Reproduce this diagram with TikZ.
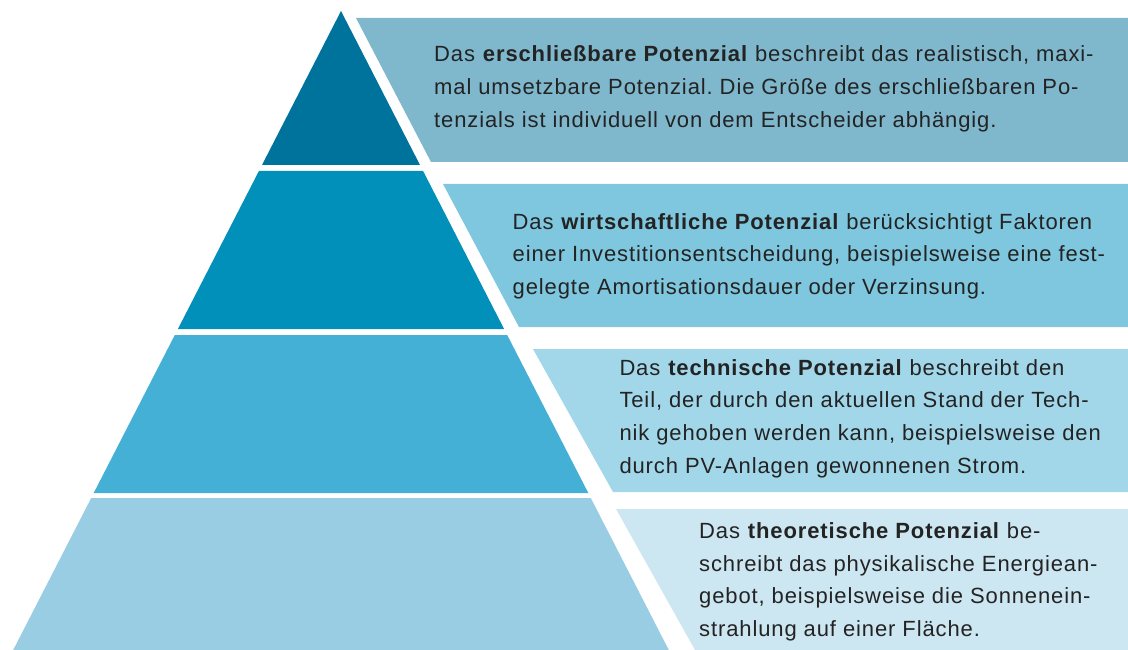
\documentclass[tikz,border=0pt]{standalone}
\usepackage{fontspec}
\setmainfont{Liberation Sans}[LetterSpace=4]
\frenchspacing
\definecolor{ptop}{RGB}{0,115,156}
\definecolor{pwirt}{RGB}{0,144,186}
\definecolor{ptech}{RGB}{69,176,213}
\definecolor{ptheo}{RGB}{153,205,228}
\definecolor{btop}{RGB}{127,184,205}
\definecolor{bwirt}{RGB}{127,199,222}
\definecolor{btech}{RGB}{162,215,234}
\definecolor{btheo}{RGB}{204,230,242}
\definecolor{txtgray}{RGB}{35,35,35}
\tikzset{potsec/.style={x=1pt,y=-1pt},
  desc/.style={align=left,anchor=base west,inner sep=0pt,text=txtgray,
    font=\fontsize{22}{32.7}\selectfont}}

\begin{document}
\begin{tikzpicture}[potsec]
    \useasboundingbox (0,0) rectangle (1128,650);
    % pyramid, apex at (341,11)
    \fill[ptop]  (341,11) -- (420,165) -- (262,165) -- cycle;
    \fill[pwirt] (258.9,171) -- (423.1,171) -- (504.1,329) -- (177.9,329) -- cycle;
    \fill[ptech] (174.8,335) -- (507.2,335) -- (588.3,493) -- (93.7,493) -- cycle;
    \fill[ptheo] (91.2,498) -- (590.8,498) -- (668.8,650) -- (13.2,650) -- cycle;
    % description bands
    \fill[btop]  (356,18) -- (1128,18) -- (1128,162) -- (431,162) -- cycle;
    \fill[bwirt] (443,184) -- (1128,184) -- (1128,327) -- (519,327) -- cycle;
    \fill[btech] (533,349) -- (1128,349) -- (1128,492) -- (613,492) -- cycle;
    \fill[btheo] (616,509) -- (1128,509) -- (1128,650) -- (695,650) -- cycle;
    % texts, anchored at the baseline of their last line
    \node[desc] (erschl) at (434,127.1)
      {Das \textbf{erschließbare Potenzial} beschreibt das realistisch, maxi-\\
       mal umsetzbare Potenzial. Die Größe des erschließbaren Po-\\
       tenzials ist individuell von dem Entscheider abhängig.};
    \node[desc] (wirt) at (512.5,294.4)
      {Das \textbf{wirtschaftliche Potenzial} berücksichtigt Faktoren\\
       einer Investitionsentscheidung, beispielsweise eine fest-\\
       gelegte Amortisationsdauer oder Verzinsung.};
    \node[desc] (tech) at (619.3,473.1)
      {Das \textbf{technische Potenzial} beschreibt den\\
       Teil, der durch den aktuellen Stand der Tech-\\
       nik gehoben werden kann, beispielsweise den\\
       durch PV-Anlagen gewonnenen Strom.};
    \node[desc] (theo) at (699,636.4)
      {Das \textbf{theoretische Potenzial} be-\\
       schreibt das physikalische Energiean-\\
       gebot, beispielsweise die Sonnenein-\\
       strahlung auf einer Fläche.};
\end{tikzpicture}
\end{document}
